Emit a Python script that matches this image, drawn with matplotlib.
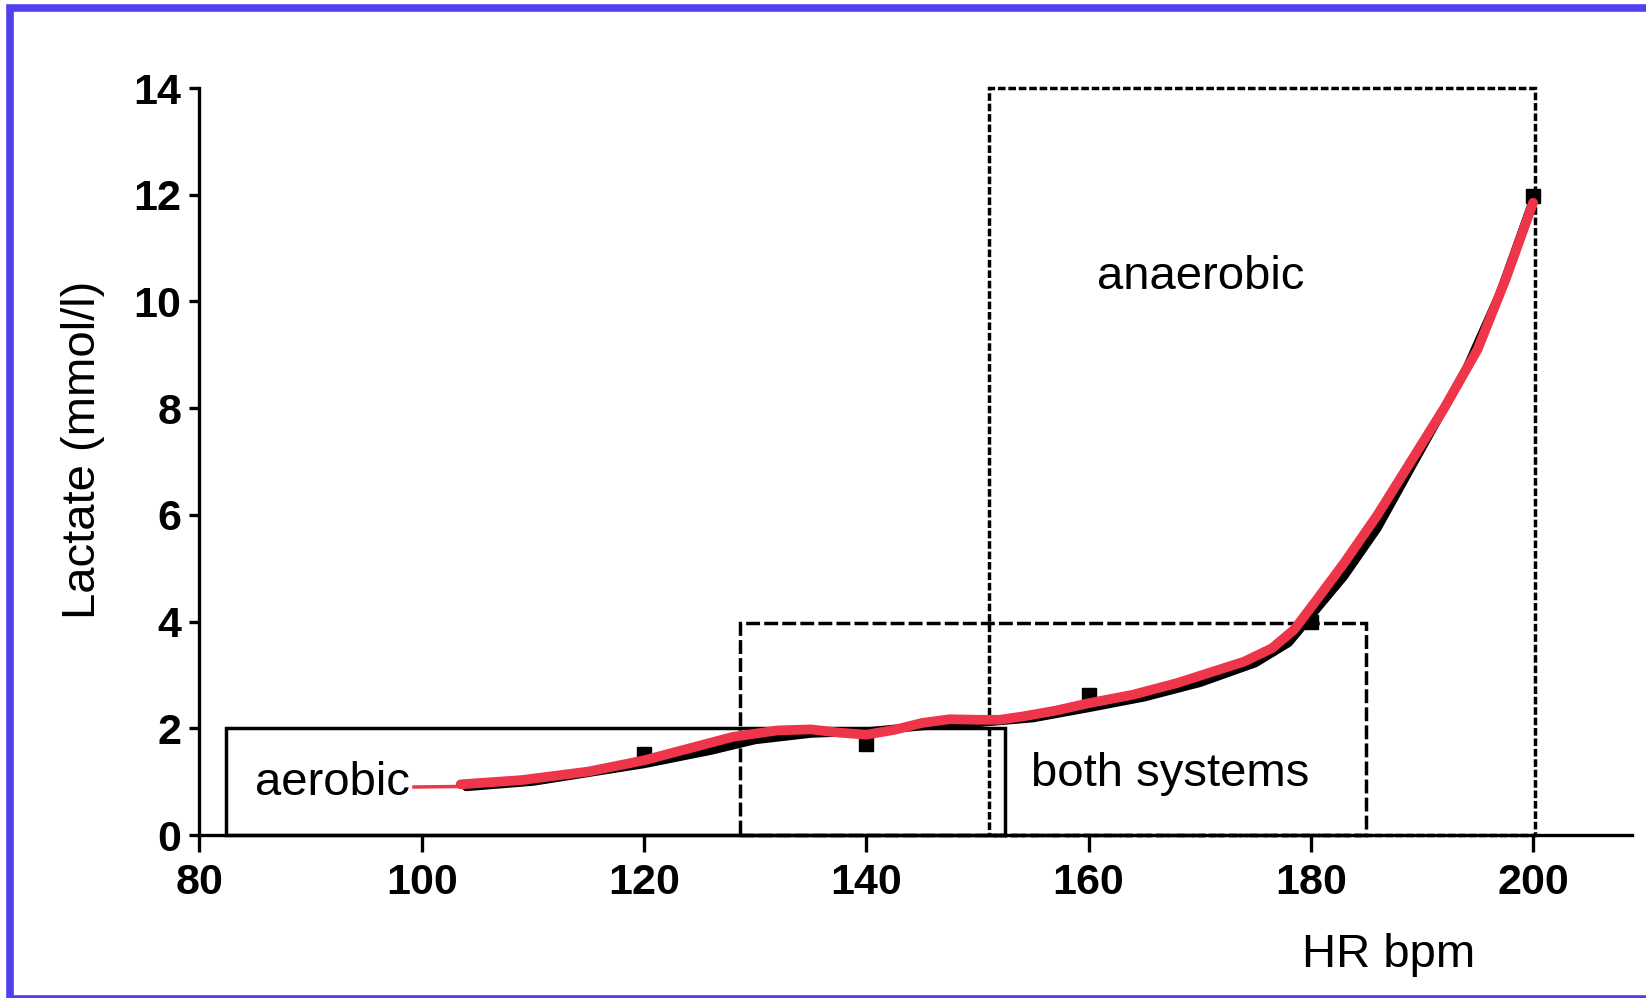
import matplotlib.pyplot as plt
from matplotlib.patches import Rectangle

plt.rcParams['font.family'] = ['Liberation Sans', 'DejaVu Sans']

# measured lactate samples (HR bpm, mmol/l)
hr_points = [120, 140, 160, 180, 200]
lactate_points = [1.52, 1.70, 2.62, 4.0, 11.98]

# hand drawn red trend line
red_x = [103.5, 109, 115, 120, 124, 128, 132, 135, 137.5, 140, 142.5, 145, 147.5, 150, 152,
         154, 157, 160, 164, 168, 171, 174, 176.5, 178.5, 180.5, 183, 186, 189, 192,
         195, 197.5, 200]
red_y = [0.95, 1.03, 1.19, 1.40, 1.62, 1.84, 1.96, 1.98, 1.92, 1.88, 1.97, 2.10, 2.17, 2.16, 2.16,
         2.22, 2.33, 2.47, 2.63, 2.85, 3.05, 3.25, 3.50, 3.85, 4.40, 5.10, 6.00, 7.00, 8.00,
         9.10, 10.40, 11.85]
tail_x = [99.3, 103.5]
tail_y = [0.90, 0.91]

# original black fit showing under the red line
fit_x = [104, 110, 120, 126, 130, 135, 140, 145, 150, 155, 160, 165, 170, 175, 178, 180,
         183, 186, 190, 194, 197, 200]
fit_y = [0.90, 1.00, 1.33, 1.58, 1.78, 1.90, 1.94, 2.04, 2.10, 2.19, 2.38, 2.58, 2.85, 3.22,
         3.60, 4.10, 4.85, 5.75, 7.25, 8.75, 10.15, 11.90]

# zones: (left, right, top)
aerobic_box = [82.4, 152.5, 2.0]
both_box = [128.6, 185.0, 3.98]
anaerobic_box = [151.0, 200.2, 14.0]

xticks = [80, 100, 120, 140, 160, 180, 200]
yticks = [0, 2, 4, 6, 8, 10, 12, 14]

fig = plt.figure(figsize=(16.46, 9.98), dpi=100)
ax = fig.add_axes([0.1212, 0.1633, 0.8703, 0.7485])

for box, ls in [(aerobic_box, '-'),
                (both_box, (0, (4.0, 1.2))),
                (anaerobic_box, (0, (2.2, 0.8)))]:
    ax.add_patch(Rectangle((box[0], 0), box[1] - box[0], box[2], fill=False,
                           edgecolor='black', linewidth=2.5, linestyle=ls,
                           clip_on=False, zorder=2))

ax.plot(fit_x, fit_y, color='black', linewidth=6, solid_joinstyle='round',
        solid_capstyle='round', zorder=3)
ax.plot(hr_points, lactate_points, 's', color='black', markersize=9.5, zorder=3)
ax.plot(tail_x, tail_y, color='#EE3549', linewidth=2.5, zorder=4)
ax.plot(red_x, red_y, color='#EE3549', linewidth=7, solid_joinstyle='round',
        solid_capstyle='round', zorder=4)

ax.text(85.0, 0.97, 'aerobic', fontsize=34, ha='left', va='center', zorder=5)
ax.text(160.8, 10.45, 'anaerobic', fontsize=34, ha='left', va='center', zorder=5)
ax.text(154.8, 1.15, 'both systems', fontsize=34, ha='left', va='center', zorder=5)

ax.set_xlim(80, 208.9)
ax.set_ylim(0, 14)
ax.set_xticks(xticks)
ax.set_yticks(yticks)
ax.tick_params(axis='x', direction='out', length=12, width=2.4, pad=8, labelsize=31)
ax.tick_params(axis='y', direction='out', length=7, width=2.4, pad=6, labelsize=31)
for lab in ax.get_xticklabels() + ax.get_yticklabels():
    lab.set_fontweight('bold')

ax.spines['top'].set_visible(False)
ax.spines['right'].set_visible(False)
ax.spines['left'].set_linewidth(2.4)
ax.spines['bottom'].set_linewidth(2.4)

ax.set_ylabel('Lactate (mmol/l)', fontsize=34, va='center')
ax.yaxis.set_label_coords(-0.081, 0.515)
ax.set_xlabel('HR bpm', fontsize=34, va='center')
ax.xaxis.set_label_coords(0.83, -0.161)

# blue frame around the slide
frame = Rectangle((9.5 / 1646, -0.001), 1.05, 1 - 8 / 998 + 0.001, fill=False,
                  edgecolor='#5040EE', linewidth=5.5, transform=fig.transFigure,
                  clip_on=False)
fig.add_artist(frame)

fig.savefig('out.png', dpi=100)
